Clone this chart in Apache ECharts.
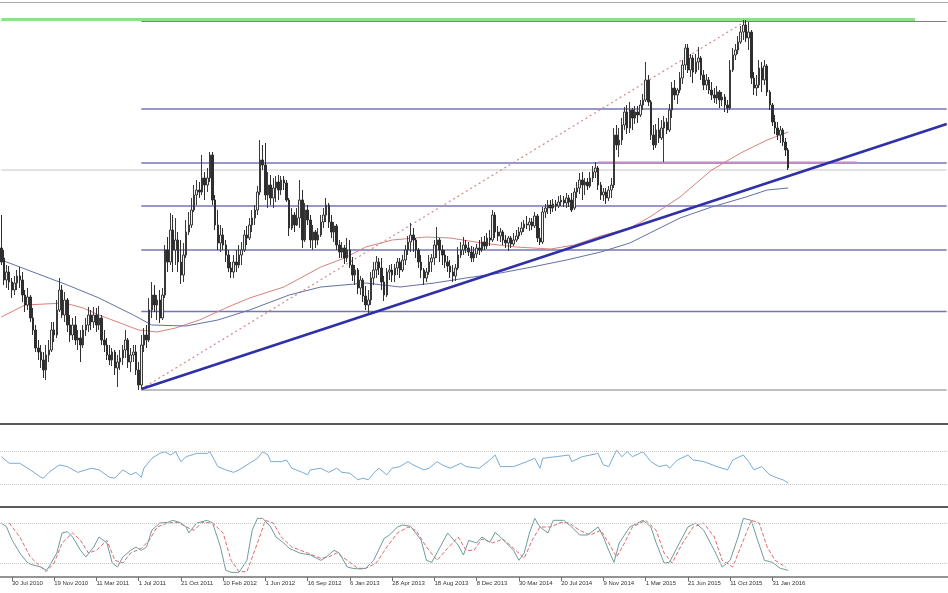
<!DOCTYPE html>
<html><head><meta charset="utf-8">
<script src="https://cdn.jsdelivr.net/npm/echarts@6/dist/echarts.min.js"></script>
<style>html,body{margin:0;padding:0;background:#fff}#c{width:948px;height:593px}</style>
</head><body><div id="c"></div>
<script>
// ---- categories (weekly slots) and tick labels ----
const categoryCount = 359;
const categories = Array.from({length: categoryCount}, (_, i) => String(i));
const labelIndex = [4,20,36,52,68,84,100,116,132,148,164,180,196,212,228,244,260,276,292];
const tickLabels = ['30 Jul 2010','19 Nov 2010','11 Mar 2011','1 Jul 2011','21 Oct 2011','10 Feb 2012','1 Jun 2012','16 Sep 2012','6 Jan 2013','28 Apr 2013','18 Aug 2013','8 Dec 2013','30 Mar 2014','20 Jul 2014','9 Nov 2014','1 Mar 2015','21 Jun 2015','11 Oct 2015','31 Jan 2016'];

// ---- weekly candles (price in pips) ----
const opens = [352,342,320,328,318,310,317,324,320,305,
295,303,282,270,252,248,240,230,245,250,
270,265,290,310,285,300,275,265,275,260,
262,255,270,275,285,278,285,275,282,260,
255,245,240,248,232,238,242,250,260,238,
245,248,230,215,255,265,260,290,305,295,
300,282,305,350,338,370,350,360,338,325,
345,368,375,390,405,410,408,422,415,422,
445,400,375,357,365,355,345,332,328,338,
335,345,350,365,362,375,382,390,408,440,
435,405,415,402,412,418,410,420,417,400,
372,385,375,382,400,360,390,380,360,368,
360,365,378,385,395,378,368,374,355,348,
352,342,350,335,325,330,312,320,304,295,
300,322,330,338,332,318,305,328,330,325,
332,338,330,340,350,358,365,360,350,338,
330,322,328,338,342,355,360,350,345,338,
334,328,324,332,345,350,355,352,348,342,
346,352,350,358,354,362,360,385,368,364,
368,360,357,362,356,360,364,368,372,376,
375,378,374,384,362,358,388,392,395,392,
396,394,398,400,397,402,400,392,408,412,
420,415,418,414,422,428,432,415,405,408,
402,410,415,465,455,460,475,488,472,490,
482,488,485,495,500,520,498,465,455,470,
462,472,478,470,490,512,505,510,522,535,
552,530,542,528,538,542,525,515,520,510,
505,502,508,500,503,495,492,530,545,550,
558,568,575,562,568,522,512,515,532,520,
534,508,495,478,472,465,470,458,450];
const closes = [338,320,328,318,310,317,324,320,305,295,
303,282,270,252,248,240,230,245,250,270,
265,290,310,285,300,275,265,275,260,262,
255,270,275,285,278,285,275,282,260,255,
245,240,248,232,238,242,250,260,238,245,
248,230,215,255,265,260,290,305,295,300,
282,305,350,338,370,350,360,338,325,345,
368,375,390,405,410,408,422,415,422,445,
400,375,357,365,355,345,332,328,338,335,
345,350,365,362,375,382,390,408,440,435,
405,415,402,412,418,410,420,417,400,372,
385,375,382,400,360,390,380,360,368,360,
365,378,385,395,378,368,374,355,348,352,
342,350,335,325,330,312,320,304,295,300,
322,330,338,332,318,305,328,330,325,332,
338,330,340,350,358,365,360,350,338,330,
322,328,338,342,355,360,350,345,338,334,
328,324,332,345,350,355,352,348,342,346,
352,350,358,354,362,360,385,368,364,368,
360,357,362,356,360,364,368,372,376,375,
378,374,384,362,358,388,392,395,392,396,
394,398,400,397,402,398,390,408,412,420,
415,418,414,422,428,432,415,405,408,402,
410,415,465,455,460,475,488,472,490,482,
488,485,495,500,520,498,465,455,470,462,
472,478,470,490,512,505,510,522,535,552,
530,542,528,538,542,525,515,520,510,505,
502,508,500,503,495,492,530,545,550,558,
568,575,562,568,522,512,515,532,520,534,
508,495,478,472,465,470,458,450,432];
const lows = [335,315,312,310,302,305,310,312,298,288,
290,278,265,248,240,232,222,220,238,248,
258,262,288,282,278,268,258,260,255,250,
238,252,264,268,270,272,268,270,255,248,
240,235,234,225,213,230,235,242,232,228,
238,225,210,211,248,252,258,282,288,280,
277,280,302,328,335,328,335,328,316,318,
342,365,372,388,395,402,405,400,408,418,
395,370,350,348,350,338,328,322,322,328,
332,335,348,355,360,368,375,385,405,430,
400,392,395,392,398,400,405,410,398,364,
370,368,374,372,352,358,375,352,350,352,
355,363,372,378,372,362,358,350,342,342,
336,338,332,319,315,306,305,298,290,287,
295,315,322,325,310,299,303,320,318,318,
325,322,328,335,345,348,348,342,332,322,
315,318,325,328,335,342,338,335,332,328,
322,318,319,330,342,345,347,344,338,338,
342,345,348,350,351,354,358,362,359,358,
355,352,349,352,354,358,361,365,368,371,
369,370,372,358,355,356,382,386,386,388,
389,392,394,393,392,393,388,390,402,406,
400,405,410,412,418,422,410,400,399,396,
399,402,412,450,443,455,470,466,467,470,
476,477,483,490,498,494,460,450,452,457,
460,438,466,468,482,500,496,507,516,530,
527,523,517,526,530,520,510,510,506,500,
497,496,492,494,488,487,490,528,540,546,
556,560,558,550,516,505,504,512,508,515,
504,490,474,466,460,457,454,444,430];
const highs = [385,350,335,334,322,324,330,333,328,310,
312,305,292,275,260,255,248,255,260,278,
278,300,322,315,308,302,285,282,284,270,
270,275,282,293,290,293,292,294,285,270,
262,255,252,250,245,250,255,270,262,252,
255,255,238,265,272,275,302,318,315,305,
310,312,355,363,387,385,382,368,360,357,
380,388,402,415,420,418,445,428,432,448,
448,405,390,375,372,360,350,338,345,350,
355,358,370,374,382,390,395,414,460,455,
457,428,425,422,424,425,424,424,420,402,
392,388,392,420,410,397,395,385,375,370,
372,385,392,402,397,385,378,376,360,358,
355,362,360,343,335,332,324,322,314,310,
328,338,344,342,342,324,332,335,336,336,
342,342,345,355,364,377,372,362,352,345,
332,332,345,346,360,373,362,355,350,344,
340,335,336,353,358,363,360,358,354,353,
356,360,363,364,367,370,390,388,374,372,
370,365,364,364,367,370,373,378,380,384,
382,382,388,386,372,393,396,400,400,401,
400,404,405,404,407,405,407,412,418,427,
428,422,422,428,434,438,434,418,412,412,
414,422,472,475,472,482,493,495,498,492,
494,494,500,506,538,525,500,475,476,482,
480,484,482,496,518,520,512,528,540,556,
556,546,545,546,553,544,530,526,523,518,
512,514,510,508,506,500,540,552,556,564,
574,580,580,578,570,528,525,540,538,540,
536,510,497,485,478,474,472,462,452];

// ---- moving averages [week, price] ----
const maRed = [[0,283],[9,295],[24,297],[31,292],[37,285],[45,277],[52,270],[59,268],[66,272],[75,280],[85,292],[94,302],[107,313],[121,333],[130,342],[138,353],[148,360],[161,363],[170,362],[182,357],[195,353],[208,351],[217,355],[227,364],[238,372],[245,382],[257,403],[269,430],[280,447],[290,460],[298,468]];
const maBlue = [[0,340],[12,328],[25,315],[37,302],[50,285],[57,275],[70,274],[82,280],[94,290],[109,305],[121,313],[138,317],[151,313],[164,317],[176,322],[189,327],[201,333],[214,340],[227,348],[238,357],[257,382],[269,393],[282,403],[290,410],[298,412]];

// ---- drawing objects ----
const fibLevels = [210, 288.5, 350, 394, 437, 491, 578.5];
const fibStart = 53, fibEnd = 358;
const trendLine = [[53,211],[358,476]];
const fibDiagonal = [[53,211],[282,579]];
const greenLine = [[0,580.5],[346,580.5]];
const supportLine = [[226,437.5],[324,437.5]];
const bidLine = [[0,430],[358,430]];

// ---- oscillators [week, value] ----
const rsiPoints = [[0,64],[3,56],[7,56],[11,48],[15,39],[16,38],[18,45],[22,54],[25,52],[29,45],[34,50],[37,48],[41,39],[43,38],[46,48],[49,42],[51,45],[53,39],[54,50],[57,62],[60,68],[62,70],[64,66],[66,70],[68,58],[70,64],[74,68],[78,68],[79,70],[82,52],[85,48],[88,45],[90,48],[94,56],[97,62],[99,70],[101,66],[102,58],[106,58],[108,60],[110,50],[114,45],[116,42],[117,48],[121,50],[124,45],[127,50],[129,45],[132,44],[135,36],[137,38],[139,36],[141,44],[143,50],[146,42],[148,50],[151,52],[154,58],[156,54],[160,48],[162,50],[165,58],[167,54],[170,50],[174,56],[176,52],[181,50],[185,60],[187,66],[189,52],[194,52],[199,58],[202,62],[204,50],[205,62],[210,64],[215,66],[216,58],[220,64],[226,68],[228,54],[230,52],[233,72],[235,64],[237,70],[239,64],[243,70],[246,58],[249,52],[252,54],[253,50],[256,60],[260,66],[262,60],[266,58],[271,52],[275,48],[277,60],[281,66],[283,58],[285,48],[288,52],[291,42],[294,38],[296,36],[298,32]];
const rsiLevels = [70, 30];
const stochMain = [[0,81],[2,75],[4,56],[7,36],[10,21],[12,18],[15,15],[17,10],[18,15],[21,36],[23,66],[25,68],[27,60],[30,40],[32,30],[35,45],[37,60],[40,51],[42,21],[44,15],[46,30],[49,40],[51,45],[53,40],[55,45],[57,70],[60,81],[63,82],[65,85],[68,81],[70,75],[71,66],[74,81],[78,85],[80,81],[83,45],[85,10],[87,7],[90,7],[93,25],[95,70],[97,88],[99,88],[102,75],[104,60],[107,51],[109,43],[113,36],[117,33],[121,25],[123,30],[126,40],[128,36],[131,15],[133,13],[136,12],[138,13],[141,25],[145,58],[147,63],[150,75],[152,78],[155,76],[159,55],[161,25],[163,22],[167,51],[169,66],[173,48],[175,33],[177,55],[180,51],[182,60],[185,52],[187,67],[189,60],[191,52],[194,40],[196,25],[198,36],[200,66],[202,88],[204,75],[207,66],[209,85],[213,85],[216,75],[219,63],[222,63],[226,75],[228,60],[230,40],[232,22],[234,51],[238,75],[243,85],[246,75],[248,51],[251,21],[253,22],[256,45],[260,75],[263,81],[266,70],[270,40],[273,15],[276,25],[279,60],[281,88],[284,85],[286,60],[289,25],[292,22],[295,13],[298,10]];
const stochSignal = [[3,81],[7,60],[11,30],[15,15],[17,8],[20,21],[23,51],[27,66],[30,55],[33,36],[36,40],[40,55],[43,25],[46,21],[49,36],[53,43],[56,55],[59,75],[63,81],[67,82],[70,75],[73,70],[76,82],[80,81],[84,66],[87,25],[90,8],[93,8],[97,51],[100,85],[103,81],[106,60],[110,45],[116,36],[121,28],[124,30],[127,36],[131,25],[135,13],[138,13],[142,21],[146,45],[150,66],[154,75],[157,70],[161,45],[165,25],[169,43],[173,60],[176,40],[179,40],[182,57],[186,51],[190,57],[194,43],[198,28],[201,55],[204,75],[208,75],[212,82],[215,81],[219,70],[223,63],[227,70],[230,51],[233,30],[236,51],[239,75],[244,85],[248,70],[251,36],[254,21],[258,51],[262,75],[266,81],[270,60],[273,25],[277,15],[281,55],[284,85],[287,81],[290,45],[293,25],[297,15]];
const stochLevels = [80, 20];

// ---- build chart ----
const chart = echarts.init(document.getElementById('c'), null, {renderer: 'canvas'});
const candleData = opens.map((o, i) => [o, closes[i], lows[i], highs[i]]);
const isLabel = (idx) => labelIndex.indexOf(idx) >= 0;

function seg(data, color, width, type, z, x, y) {
  return {type: 'line', data: data, xAxisIndex: x || 0, yAxisIndex: y || 0, showSymbol: false, symbol: 'none',
    silent: true, animation: false, z: z || 2,
    lineStyle: {color: color, width: width, type: type || 'solid'}};
}

const series = [];
series.push(seg(bidLine, '#c8c8c8', 1, 'solid', 1));
fibLevels.forEach((lv, k) => {
  const edge = (k === 0 || k === fibLevels.length - 1);
  series.push(seg([[fibStart, lv], [fibEnd, lv]], edge ? '#808080' : '#7474b8', edge ? 1.2 : 1.4, 'solid', 1));
});
series.push(seg(greenLine, '#8fdf8f', 3, 'solid', 1));
series.push(seg(supportLine, '#c68ac6', 2, 'solid', 1));
series.push(seg(fibDiagonal, '#d48888', 1.2, [2, 3], 1));
series.push(seg(maRed, '#d98080', 1, 'solid', 2));
series.push(seg(maBlue, '#6272a6', 1, 'solid', 2));
series.push({
  type: 'candlestick', data: candleData, xAxisIndex: 0, yAxisIndex: 0, barWidth: 2, z: 3,
  itemStyle: {color: '#f2f2f2', color0: '#2e2e2e', borderColor: '#3a3a3a', borderColor0: '#2e2e2e', borderWidth: 1}
});
series.push(seg(trendLine, '#2f2fa8', 2.5, 'solid', 4));
const rsiSeries = seg(rsiPoints, '#78acd6', 1, 'solid', 2, 1, 1);
rsiSeries.markLine = {silent: true, symbol: 'none', label: {show: false}, animation: false,
  lineStyle: {color: '#c8c8c8', type: 'dotted', width: 1}, data: rsiLevels.map(v => ({yAxis: v}))};
series.push(rsiSeries);
const stMain = seg(stochMain, '#6f9c9c', 1, 'solid', 3, 2, 2);
stMain.markLine = {silent: true, symbol: 'none', label: {show: false}, animation: false,
  lineStyle: {color: '#c8c8c8', type: 'dotted', width: 1}, data: stochLevels.map(v => ({yAxis: v}))};
series.push(stMain);
series.push(seg(stochSignal, '#e06a6a', 1, 'dashed', 2, 2, 2));

const baseX = (grid, lineColor, lineWidth) => ({
  type: 'category', data: categories, gridIndex: grid, boundaryGap: true,
  axisLine: {show: true, lineStyle: {color: lineColor, width: lineWidth}},
  axisTick: {show: false}, axisLabel: {show: false}, splitLine: {show: false}
});

const xAxis = [
  baseX(0, '#5a5a5a', 2),
  baseX(1, '#5a5a5a', 2),
  Object.assign(baseX(2, '#707070', 1.5), {
    axisTick: {show: true, alignWithLabel: true, interval: (i) => isLabel(i), length: 4, lineStyle: {color: '#707070'}},
    axisLabel: {show: true, interval: (i) => isLabel(i), formatter: (v, i) => isLabel(i) ? tickLabels[labelIndex.indexOf(i)] : '',
      align: 'left', fontSize: 6, color: '#333', margin: 3, fontFamily: 'Liberation Sans'}
  }),
  Object.assign(baseX(0, '#aaaaaa', 1), {position: 'top'})
];

const yAxis = [
  {type: 'value', gridIndex: 0, min: 176, max: 598, show: false, scale: true},
  {type: 'value', gridIndex: 1, min: 3, max: 100, show: false},
  {type: 'value', gridIndex: 2, min: 0, max: 102, show: false}
];

chart.setOption({
  animation: false,
  backgroundColor: '#ffffff',
  grid: [
    {left: 0, right: 0, top: 2, height: 422},
    {left: 0, right: 0, top: 427, height: 80},
    {left: 0, right: 0, top: 509, height: 68}
  ],
  xAxis: xAxis,
  yAxis: yAxis,
  series: series
});
</script>
</body></html>
